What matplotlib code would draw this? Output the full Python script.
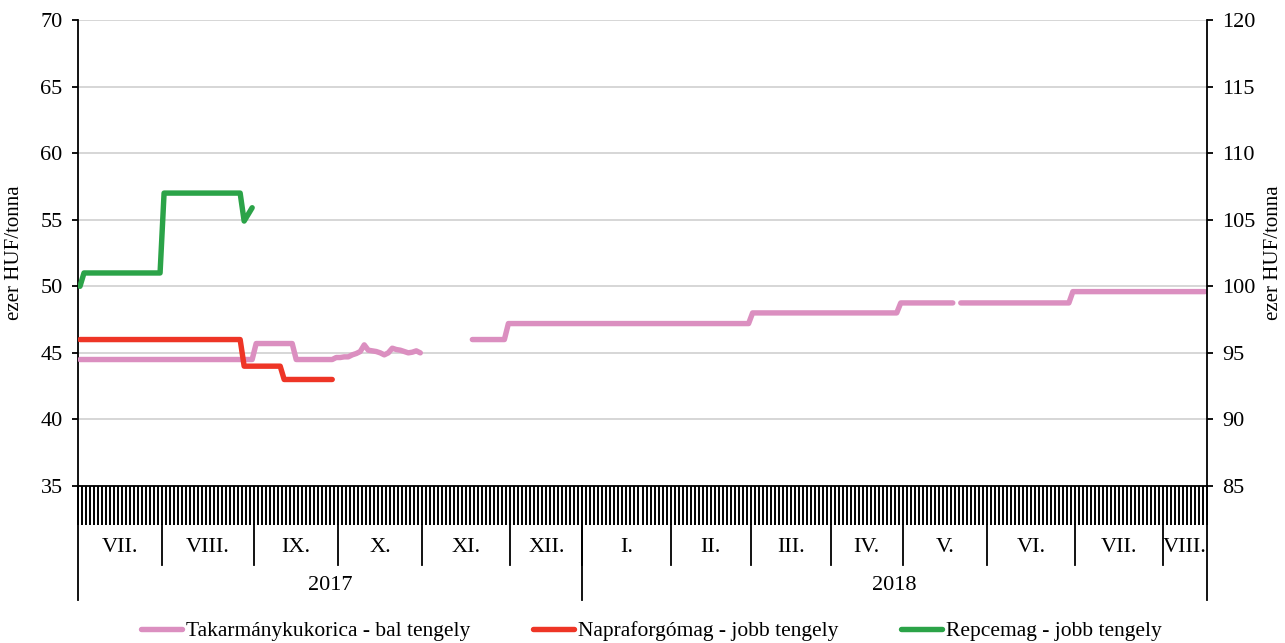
import matplotlib
matplotlib.use("AGG")
import numpy as np
import matplotlib.pyplot as plt
import matplotlib.transforms as mtransforms

plt.rcParams['font.family'] = ['Liberation Serif', 'DejaVu Serif']

### categories: working days per month ###
month_labels = ["VII.", "VIII.", "IX.", "X.", "XI.", "XII.", "I.", "II.",
                "III.", "IV.", "V.", "VI.", "VII.", "VIII."]
month_days = [21, 23, 21, 21, 22, 18, 22, 20, 20, 18, 21, 22, 22, 11]
years = ["2017", "2018"]
year_months = [6, 8]

### series as runs (value, number of days) ###
corn_vals = [44.5, 45.7, 44.5, 44.65, 44.65, 44.7, 44.7, 44.85, 44.95, 45.1, 45.6,
             45.2, 45.15, 45.1, 45.0, 44.85, 45.0, 45.35, 45.25, 45.2, 45.1, 45.0,
             45.05, 45.15, 45.0, np.nan, 46.0, 47.2, 48.0, 48.75, np.nan, 48.75, 49.6]
corn_lens = [44, 10, 10, 1, 1, 1, 1, 1, 1, 1, 1,
             1, 1, 1, 1, 1, 1, 1, 1, 1, 1, 1,
             1, 1, 1, 12, 9, 61, 37, 14, 1, 28, 34]

sun_vals = [96, 94, 93, np.nan]
sun_lens = [41, 10, 13, 218]

rape_vals = [100, 101, 107, 104.9, 105.4, 105.9, np.nan]
rape_lens = [1, 20, 20, 1, 1, 1, 238]

corn = np.repeat(corn_vals, corn_lens)
sun = np.repeat(sun_vals, sun_lens)
rape = np.repeat(rape_vals, rape_lens)
n_days = sum(month_days)
x = np.arange(n_days)

c_corn = "#DB8FC0"
c_sun = "#EE3526"
c_rape = "#2BA348"

fs = 16

fig = plt.figure(figsize=(12.85, 6.43), dpi=100)
ax = fig.add_axes([78/1285, 1-486/643, 1129/1285, 466/643])
ax2 = ax.twinx()

l1, = ax.plot(x, corn, color=c_corn, lw=3.9, solid_capstyle="round",
              label="Takarmánykukorica - bal tengely", zorder=3)
l2, = ax2.plot(x, sun, color=c_sun, lw=3.9, solid_capstyle="round",
               label="Napraforgómag - jobb tengely")
l3, = ax2.plot(x, rape, color=c_rape, lw=3.9, solid_capstyle="round",
               label="Repcemag - jobb tengely")

ax.set_xlim(-0.5, n_days - 0.5)
ax.set_ylim(35, 70)
ax2.set_ylim(85, 120)
ax.set_yticks(np.arange(35, 71, 5))
ax2.set_yticks(np.arange(85, 121, 5))
ax.yaxis.grid(True, color="#D0D0D0", lw=1.2)
ax.set_axisbelow(True)

for a in (ax, ax2):
    a.spines["top"].set_visible(False)
ax.spines["right"].set_visible(False)
ax2.spines["left"].set_visible(False)
ax2.spines["bottom"].set_visible(False)
ax.spines["left"].set_linewidth(1.3)
ax.spines["bottom"].set_linewidth(1.3)
ax2.spines["right"].set_linewidth(1.3)

ax.tick_params(axis="y", length=4, width=1.3, labelsize=fs, pad=7)
ax2.tick_params(axis="y", length=4, width=1.3, labelsize=fs, pad=7)

# one tick per working day
ax.set_xticks(np.arange(-0.5, n_days, 1))
ax.set_xticklabels([])
ax.tick_params(axis="x", length=28, width=1.4, color="black")

ax.set_ylabel("ezer HUF/tonna", fontsize=15)
ax2.set_ylabel("ezer HUF/tonna", fontsize=15)
ax.yaxis.set_label_coords(-54/1129, 0.5)
ax2.yaxis.set_label_coords(1 + 57/1129, 0.5)

### month and year rows under the axis ###
trans = mtransforms.blended_transform_factory(ax.transData, ax.transAxes)
bounds = np.concatenate([[0], np.cumsum(month_days)]) - 0.5
y_month_top = -39/466
y_month_bot = -79/466
y_year_bot = -114/466
for b in bounds[1:-1]:
    ax.plot([b, b], [y_month_top, y_month_bot], color="black", lw=1.3,
            transform=trans, clip_on=False)
for i, lab in enumerate(month_labels):
    ax.text((bounds[i] + bounds[i+1]) / 2, -62/466, lab, transform=trans,
            ha="center", va="center", fontsize=fs)
ybounds = bounds[np.concatenate([[0], np.cumsum(year_months)])]
for b in ybounds:
    ax.plot([b, b], [0, y_year_bot], color="black", lw=1.3,
            transform=trans, clip_on=False)
for i, lab in enumerate(years):
    ax.text((ybounds[i] + ybounds[i+1]) / 2, -100/466, lab, transform=trans,
            ha="center", va="center", fontsize=fs)

fig.legend(handles=[l1, l2, l3], loc="center", bbox_to_anchor=(0.507, 1-631/643),
           ncol=3, frameon=False, fontsize=15.5, handlelength=1.9,
           handletextpad=0.2, columnspacing=2.9)

fig.savefig("out.png", dpi=100)
